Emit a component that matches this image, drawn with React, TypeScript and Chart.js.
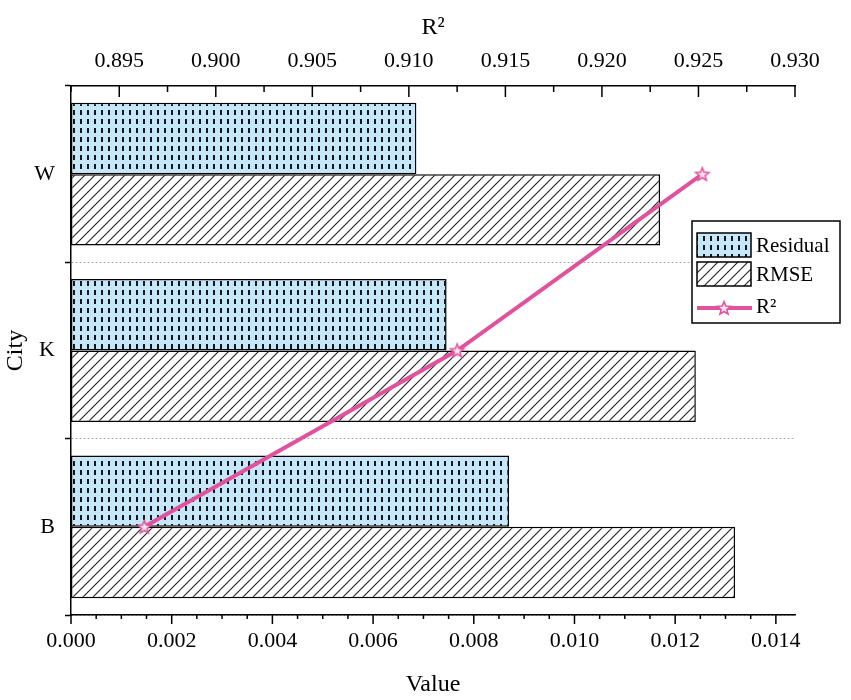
import { useEffect, useRef } from "react";
import { Chart, registerables } from "chart.js";

Chart.register(...registerables);

// dados
const cities = ["W", "K", "B"];
const residual = [0.00686, 0.00746, 0.0087];
const rmse = [0.0117, 0.01241, 0.01319];
const r2 = [0.9252, 0.9125, 0.8963];
const valueTicks = [0, 0.002, 0.004, 0.006, 0.008, 0.01, 0.012, 0.014];
const r2Ticks = [0.895, 0.9, 0.905, 0.91, 0.915, 0.92, 0.925, 0.93];

const FONT = '"Liberation Serif", "Times New Roman", serif';
const PINK = "#e0529c";

function makeDots(ctx: CanvasRenderingContext2D) {
  const c = document.createElement("canvas");
  c.width = 7;
  c.height = 9;
  const g = c.getContext("2d")!;
  g.fillStyle = "#c6e7f7";
  g.fillRect(0, 0, 7, 9);
  g.fillStyle = "#121620";
  g.fillRect(3, 2, 2, 5);
  return ctx.createPattern(c, "repeat")!;
}

function makeHatch(ctx: CanvasRenderingContext2D) {
  const c = document.createElement("canvas");
  c.width = 10;
  c.height = 10;
  const g = c.getContext("2d")!;
  g.fillStyle = "#fff";
  g.fillRect(0, 0, 10, 10);
  g.strokeStyle = "#222";
  g.lineWidth = 1.1;
  g.beginPath();
  g.moveTo(-1, 11);
  g.lineTo(11, -1);
  g.moveTo(-2, 2);
  g.lineTo(2, -2);
  g.moveTo(8, 12);
  g.lineTo(12, 8);
  g.stroke();
  return ctx.createPattern(c, "repeat")!;
}

function makeStar() {
  const c = document.createElement("canvas");
  c.width = 18;
  c.height = 18;
  const g = c.getContext("2d")!;
  g.beginPath();
  for (let i = 0; i < 10; i++) {
    const r = i % 2 === 0 ? 7 : 3;
    const a = -Math.PI / 2 + (i * Math.PI) / 5;
    const px = 9 + r * Math.cos(a);
    const py = 9.5 + r * Math.sin(a);
    if (i === 0) g.moveTo(px, py);
    else g.lineTo(px, py);
  }
  g.closePath();
  g.fillStyle = "#fbe3ef";
  g.fill();
  g.strokeStyle = PINK;
  g.lineWidth = 1.5;
  g.stroke();
  return c;
}

// marcas dos eixos (maiores e menores), o Chart.js não tem ticks menores
const axisTicks = {
  id: "axisTicks",
  afterDraw(chart: any) {
    const { ctx } = chart;
    const x = chart.scales.x;
    const x2 = chart.scales.x2;
    ctx.save();
    ctx.strokeStyle = "#000";
    ctx.lineWidth = 1.5;
    const line = (px: number, a: number, b: number) => {
      ctx.beginPath();
      ctx.moveTo(px, a);
      ctx.lineTo(px, b);
      ctx.stroke();
    };
    const yb = x.top;
    const nb = Math.floor(x.max / 0.0005 + 1e-6);
    for (let i = 0; i <= nb; i++) {
      const px = x.getPixelForValue(i * 0.0005);
      line(px, yb, yb + (i % 4 === 0 ? 9 : 4));
    }
    const yt = x2.bottom;
    r2Ticks.forEach((v) => {
      line(x2.getPixelForValue(v), yt, yt + 11);
      const m = v - 0.0025;
      if (m >= x2.min - 1e-9) line(x2.getPixelForValue(m), yt, yt + 6);
    });
    ctx.restore();
  },
};

const boxLegend = {
  id: "boxLegend",
  afterDatasetsDraw(chart: any) {
    const { ctx } = chart;
    const ds = chart.data.datasets;
    const bar1 = ds[1];
    const bar2 = ds[2];
    const ln = ds[0];
    ctx.save();
    ctx.fillStyle = "#fff";
    ctx.fillRect(692, 221, 148, 102);
    ctx.strokeStyle = "#000";
    ctx.lineWidth = 1.5;
    ctx.strokeRect(692, 221, 148, 102);

    ctx.fillStyle = bar1.backgroundColor;
    ctx.fillRect(697, 233, 54, 24);
    ctx.strokeRect(697, 233, 54, 24);
    ctx.fillStyle = bar2.backgroundColor;
    ctx.fillRect(697, 262, 54, 24);
    ctx.strokeRect(697, 262, 54, 24);

    ctx.strokeStyle = PINK;
    ctx.lineWidth = 4;
    ctx.beginPath();
    ctx.moveTo(697, 308);
    ctx.lineTo(752, 308);
    ctx.stroke();
    const star = ln.pointStyle as HTMLCanvasElement;
    ctx.drawImage(star, 724 - 9, 308 - 9);

    ctx.fillStyle = "#000";
    ctx.font = "21px " + FONT;
    ctx.textBaseline = "middle";
    ctx.textAlign = "left";
    ctx.fillText(bar1.label, 756, 246);
    ctx.fillText(bar2.label, 756, 275);
    ctx.fillText(ln.label, 756, 307);
    ctx.restore();
  },
};

export default function App() {
  const chartRef = useRef<HTMLCanvasElement>(null);
  const chartInstance = useRef<Chart | null>(null);

  useEffect(() => {
    document.body.style.margin = "0";
    if (chartInstance.current) {
      chartInstance.current.destroy();
    }
    const canvas = chartRef.current;
    if (!canvas) return;
    const ctx = canvas.getContext("2d")!;

    Chart.defaults.font.family = FONT;
    Chart.defaults.color = "#000";

    const tickFont = { family: FONT, size: 22 };
    const titleFont = { family: FONT, size: 24 };

    chartInstance.current = new Chart(canvas, {
      type: "bar",
      data: {
        labels: cities,
        datasets: [
          {
            type: "line",
            label: "R²",
            data: r2,
            xAxisID: "x2",
            yAxisID: "y",
            indexAxis: "y",
            borderColor: PINK,
            backgroundColor: PINK,
            borderWidth: 4,
            pointStyle: makeStar(),
            pointRadius: 9,
            fill: false,
            order: 0,
          } as any,
          {
            label: "Residual",
            data: residual,
            xAxisID: "x",
            backgroundColor: makeDots(ctx),
            borderColor: "#000",
            borderWidth: 1.5,
            borderSkipped: false,
            categoryPercentage: 0.81,
            barPercentage: 1,
            order: 1,
          },
          {
            label: "RMSE",
            data: rmse,
            xAxisID: "x",
            backgroundColor: makeHatch(ctx),
            borderColor: "#000",
            borderWidth: 1.5,
            borderSkipped: false,
            categoryPercentage: 0.81,
            barPercentage: 1,
            order: 1,
          },
        ],
      },
      options: {
        indexAxis: "y",
        responsive: false,
        animation: false,
        layout: { padding: { left: 0, right: 56, top: 0, bottom: 0 } },
        plugins: {
          legend: { display: false },
          tooltip: { enabled: false },
        },
        scales: {
          x: {
            type: "linear",
            position: "bottom",
            min: 0,
            max: 0.01438,
            afterBuildTicks: (s: any) => {
              s.ticks = valueTicks.map((v) => ({ value: v }));
            },
            afterFit: (s: any) => {
              s.height = 85;
            },
            ticks: {
              font: tickFont,
              padding: 13,
              maxRotation: 0,
              callback: (v: any) => Number(v).toFixed(3),
            },
            grid: { display: false, drawTicks: false },
            border: { display: true, color: "#000", width: 1.5 },
            title: {
              display: true,
              text: "Value",
              font: titleFont,
              padding: { top: 0, bottom: 1 },
            },
          },
          x2: {
            type: "linear",
            axis: "x",
            position: "top",
            min: 0.8925,
            max: 0.93,
            afterBuildTicks: (s: any) => {
              s.ticks = r2Ticks.map((v) => ({ value: v }));
            },
            afterFit: (s: any) => {
              s.height = 86;
            },
            ticks: {
              font: tickFont,
              padding: 12,
              maxRotation: 0,
              callback: (v: any) => Number(v).toFixed(3),
            },
            grid: { display: false, drawTicks: false },
            border: { display: true, color: "#000", width: 1.5 },
            title: {
              display: true,
              text: "R²",
              font: titleFont,
              padding: { top: 13, bottom: 0 },
            },
          },
          y: {
            type: "category",
            offset: true,
            afterFit: (s: any) => {
              s.width = 71;
            },
            ticks: { font: tickFont, padding: 10 },
            grid: {
              offset: true,
              drawTicks: true,
              tickLength: 6,
              tickColor: "#000",
              tickWidth: 1.5,
              lineWidth: 1,
              color: (c: any) =>
                c.index === 0 || c.index === cities.length ? "rgba(0,0,0,0)" : "#a8a8a8",
            },
            border: { display: true, color: "#000", width: 1.5, dash: [2, 2] },
            title: {
              display: true,
              text: "City",
              font: titleFont,
              padding: { top: 1, bottom: 0 },
            },
          },
        },
      },
      plugins: [axisTicks, boxLegend],
    });

    return () => {
      if (chartInstance.current) {
        chartInstance.current.destroy();
        chartInstance.current = null;
      }
    };
  }, []);

  return <canvas ref={chartRef} width={851} height={700} />;
}
